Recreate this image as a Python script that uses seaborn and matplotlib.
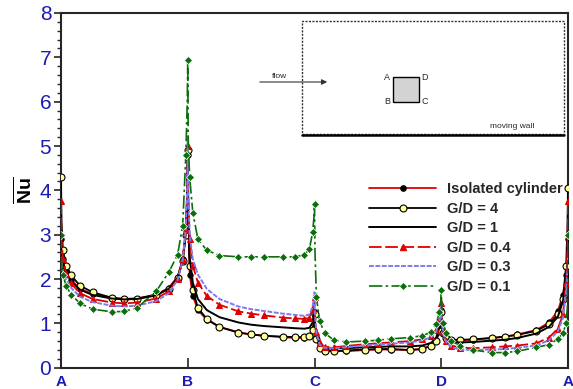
import numpy as np
import pandas as pd
import matplotlib
matplotlib.use("Agg")
import matplotlib.pyplot as plt
import seaborn as sns
from matplotlib.patches import Rectangle, FancyArrowPatch
from matplotlib.lines import Line2D

# ---------------- data ----------------
corner_labels = ["A", "B", "C", "D", "A"]
corner_pos = [0, 1, 2, 3, 4]
# sampling offsets along each face (fraction of face length)
face_offsets = [0, 0.004, 0.015, 0.04, 0.08, 0.15, 0.25, 0.4, 0.5, 0.6,
                0.75, 0.85, 0.92, 0.96, 0.985, 0.996]

# Nu along faces A-B, B-C, C-D, D-A (16 values each), then the final A value
isolated = [2.9, 2.7, 2.45, 2.2, 1.98, 1.78, 1.66, 1.57, 1.55, 1.56, 1.65, 1.8, 2.05, 2.45, 3.1, 3.9,
            4.8, 3.4, 2.1, 1.62, 1.3, 1.08, 0.92, 0.8, 0.75, 0.72, 0.69, 0.67, 0.67, 0.72, 0.85, 1.05,
            1.25, 0.95, 0.7, 0.5, 0.42, 0.38, 0.37, 0.4, 0.41, 0.41, 0.4, 0.42, 0.5, 0.62, 0.85, 1.1,
            1.3, 1.0, 0.8, 0.68, 0.63, 0.62, 0.63, 0.67, 0.7, 0.75, 0.85, 1.02, 1.28, 1.65, 2.1, 2.5,
            2.9]
gd4 = [4.3, 3.3, 2.65, 2.3, 2.08, 1.85, 1.7, 1.58, 1.55, 1.56, 1.64, 1.78, 2.02, 2.4, 3.0, 3.8,
       4.9, 3.3, 2.3, 1.75, 1.35, 1.1, 0.92, 0.79, 0.75, 0.72, 0.7, 0.69, 0.69, 0.72, 0.85, 1.05,
       1.2, 0.9, 0.65, 0.45, 0.38, 0.37, 0.39, 0.41, 0.42, 0.42, 0.4, 0.42, 0.5, 0.6, 0.82, 1.05,
       1.25, 1.0, 0.78, 0.67, 0.63, 0.63, 0.64, 0.67, 0.7, 0.74, 0.83, 0.98, 1.2, 1.55, 2.3, 3.2,
       4.05]
gd1 = [2.8, 2.6, 2.4, 2.15, 1.95, 1.76, 1.64, 1.56, 1.54, 1.55, 1.63, 1.78, 2.03, 2.42, 3.05, 3.9,
       4.9, 3.5, 2.5, 1.92, 1.55, 1.3, 1.14, 1.02, 0.97, 0.94, 0.91, 0.89, 0.88, 0.9, 1.02, 1.25,
       1.3, 1.0, 0.72, 0.52, 0.46, 0.44, 0.44, 0.46, 0.47, 0.48, 0.48, 0.5, 0.56, 0.68, 0.9, 1.15,
       1.3, 1.0, 0.76, 0.64, 0.58, 0.57, 0.58, 0.61, 0.63, 0.67, 0.77, 0.92, 1.15, 1.5, 2.0, 2.4,
       2.8]
gd04 = [3.75, 2.9, 2.45, 2.12, 1.9, 1.68, 1.55, 1.47, 1.45, 1.47, 1.56, 1.72, 2.0, 2.42, 3.1, 4.0,
        5.0, 3.9, 2.9, 2.3, 1.92, 1.62, 1.42, 1.27, 1.22, 1.18, 1.13, 1.11, 1.1, 1.13, 1.3, 1.55,
        1.6, 1.2, 0.8, 0.55, 0.47, 0.46, 0.49, 0.53, 0.55, 0.57, 0.6, 0.64, 0.72, 0.85, 1.05, 1.25,
        1.45, 1.1, 0.8, 0.6, 0.5, 0.45, 0.44, 0.46, 0.48, 0.5, 0.55, 0.68, 0.88, 1.2, 1.9, 2.7,
        3.75]
gd03 = [2.5, 2.35, 2.15, 1.98, 1.8, 1.6, 1.48, 1.4, 1.38, 1.4, 1.5, 1.68, 1.98, 2.42, 3.15, 4.1,
        5.2, 4.0, 3.0, 2.45, 2.1, 1.78, 1.55, 1.38, 1.32, 1.28, 1.22, 1.19, 1.17, 1.2, 1.38, 1.62,
        1.7, 1.2, 0.78, 0.52, 0.45, 0.44, 0.46, 0.5, 0.52, 0.54, 0.57, 0.61, 0.69, 0.82, 1.02, 1.25,
        1.5, 1.1, 0.78, 0.57, 0.46, 0.41, 0.4, 0.41, 0.42, 0.45, 0.5, 0.62, 0.82, 1.12, 1.7, 2.2,
        2.5]
gd01 = [3.0, 2.4, 2.1, 1.85, 1.65, 1.45, 1.32, 1.26, 1.27, 1.35, 1.72, 2.15, 2.55, 3.2, 4.8, 6.0,
        6.95, 5.1, 4.3, 3.5, 2.9, 2.65, 2.53, 2.5, 2.5, 2.5, 2.5, 2.5, 2.55, 2.68, 3.05, 3.4,
        3.7, 2.6, 1.6, 1.05, 0.78, 0.63, 0.58, 0.6, 0.62, 0.65, 0.68, 0.72, 0.8, 0.98, 1.25, 1.5,
        1.75, 1.3, 1.0, 0.78, 0.6, 0.5, 0.4, 0.34, 0.34, 0.37, 0.46, 0.52, 0.65, 0.78, 1.0, 1.4,
        3.0]

series_names = ["Isolated cylinder", "G/D = 4", "G/D = 1", "G/D = 0.4", "G/D = 0.3", "G/D = 0.1"]
series_values = [isolated, gd4, gd1, gd04, gd03, gd01]

x_pos = [k + s for k in range(4) for s in face_offsets] + [4.0]
df = pd.DataFrame({name: vals for name, vals in zip(series_names, series_values)})
df["pos"] = x_pos

# ---------------- styling ----------------
sns.set_style("ticks")
plt.rcParams["font.family"] = ["Liberation Sans", "DejaVu Sans"]
plt.rcParams["mathtext.fontset"] = "custom"
plt.rcParams["mathtext.bf"] = "Liberation Sans:bold"
plt.rcParams["mathtext.rm"] = "Liberation Sans"

fig = plt.figure(figsize=(5.73, 3.89), dpi=100)
ax = fig.add_axes([61 / 573, 1 - 367.7 / 389, (568 - 61) / 573, (367.7 - 13) / 389])

skip = {0.004, 0.996}
mark_idx = [i for i, x in enumerate(x_pos) if round(x - int(x), 3) not in skip]

styles = {
    "Isolated cylinder": dict(color="#e00000", lw=1.3, ls="-", marker="o", ms=3.8,
                              mfc="black", mec="black", zorder=3),
    "G/D = 4": dict(color="black", lw=1.3, ls="-", marker="o", ms=5,
                    mfc="#ffff99", mec="black", mew=0.8, zorder=3),
    "G/D = 1": dict(color="black", lw=1.4, ls="-", zorder=3),
    "G/D = 0.4": dict(color="#e00000", lw=1.3, ls=(0, (7, 2)), marker="^", ms=4,
                      mfc="#e00000", mec="#e00000", zorder=4),
    "G/D = 0.3": dict(color="#7b7bf0", lw=1.4, ls=(0, (2.5, 0.8)), zorder=4),
    "G/D = 0.1": dict(color="#0a6e0a", lw=1.2, ls=(0, (8, 2, 1.5, 2)), marker="D", ms=3.6,
                      mfc="#0a6e0a", mec="white", mew=0.5, zorder=5),
}

handles = []
for name in series_names:
    st = dict(styles[name])
    kw = dict(color=st.pop("color"), linewidth=st.pop("lw"), linestyle=st.pop("ls"))
    if "marker" in st:
        kw.update(marker=st.pop("marker"), markersize=st.pop("ms"),
                  markerfacecolor=st.pop("mfc"), markeredgecolor=st.pop("mec"),
                  markevery=mark_idx)
        if "mew" in st:
            kw["markeredgewidth"] = st.pop("mew")
    sns.lineplot(data=df, x="pos", y=name, ax=ax, sort=False, estimator=None,
                 legend=False, zorder=st.get("zorder", 3), **kw)
    hk = {k: v for k, v in kw.items() if k != "markevery"}
    handles.append(Line2D([0], [0], label=name, **hk))

ax.set_xlim(0, 4)
ax.set_ylim(0, 8)
ax.set_xticks(corner_pos)
ax.set_xticklabels(corner_labels, fontweight="bold", color="#1c1cb4", fontsize=11)
ax.set_yticks(range(0, 9))
ax.set_yticks(np.arange(0, 8.01, 0.2), minor=True)
ax.tick_params(axis="y", which="major", direction="out", length=5, width=1.2,
               labelsize=15, labelcolor="#1c1cb4", pad=2)
ax.tick_params(axis="y", which="minor", direction="out", length=3, width=1)
ax.tick_params(axis="x", which="major", direction="in", length=7, width=1.2, pad=5)
ax.set_xlabel("")
ax.set_ylabel(r"$\overline{\mathbf{Nu}}$", fontsize=14, color="black", labelpad=3)
for sp in ax.spines.values():
    sp.set_linewidth(1.5)
    sp.set_visible(True)

leg = ax.legend(handles=handles, loc="upper left", bbox_to_anchor=(362 / 573, 1 - 175 / 389),
                bbox_transform=fig.transFigure, frameon=False, handlelength=4.6,
                handletextpad=0.7, labelspacing=0.38, borderpad=0,
                prop={"weight": "bold", "size": 10.5})

# ---------------- inset schematic ----------------
W, H = 573, 389
def fx(px):
    return px / W
def fy(py):
    return 1 - py / H

fig.patches.append(Rectangle((fx(302), fy(134)), fx(564) - fx(302), fy(21) - fy(134),
                             transform=fig.transFigure, fill=False, ls=(0, (1.5, 1)),
                             lw=1.0, ec="#333333"))
fig.lines.append(Line2D([fx(302), fx(564)], [fy(135), fy(135)], transform=fig.transFigure,
                        color="black", lw=1.8))
fig.patches.append(Rectangle((fx(393), fy(102)), fx(419) - fx(393), fy(77) - fy(102),
                             transform=fig.transFigure, fc="#d3d3d3", ec="black", lw=1.0))
fig.patches.append(FancyArrowPatch((fx(257), fy(82)), (fx(330), fy(82)),
                                   transform=fig.transFigure, arrowstyle="-|>",
                                   mutation_scale=8, lw=0.8, color="#333333"))
fig.text(fx(279), fy(76), "flow", fontsize=6, ha="center", va="center")
fig.text(fx(390), fy(77), "A", fontsize=6.5, ha="right", va="center")
fig.text(fx(421), fy(77), "D", fontsize=6.5, ha="left", va="center")
fig.text(fx(390), fy(102), "B", fontsize=6.5, ha="right", va="center")
fig.text(fx(421), fy(102), "C", fontsize=6.5, ha="left", va="center")
fig.text(fx(512), fy(127), "moving wall", fontsize=6, ha="center", va="center")

fig.savefig("out.png", dpi=100)
